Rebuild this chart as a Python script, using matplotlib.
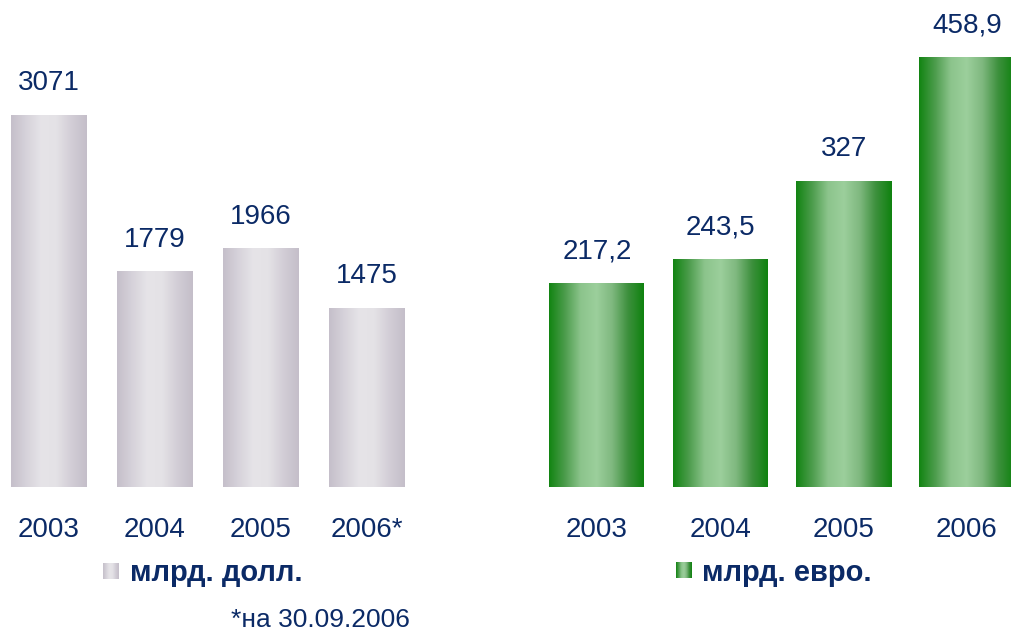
import numpy as np
import matplotlib.pyplot as plt
from matplotlib.colors import LinearSegmentedColormap

plt.rcParams['font.family'] = ['Liberation Sans', 'DejaVu Sans']

# данные
years_usd = ['2003', '2004', '2005', '2006*']
values_usd = [3071, 1779, 1966, 1475]
labels_usd = ['3071', '1779', '1966', '1475']

years_eur = ['2003', '2004', '2005', '2006']
values_eur = [217.2, 243.5, 327, 458.9]
labels_eur = ['217,2', '243,5', '327', '458,9']

TEXT_COLOR = '#0b2a66'
W, H = 1012, 631

grey_cmap = LinearSegmentedColormap.from_list(
    'grey', ['#c5bfca', '#d6d2da', '#e6e4e8', '#e4e2e6', '#d2cdd6', '#c4bec9'])
green_cmap = LinearSegmentedColormap.from_list(
    'green', ['#128412', '#4c9c4c', '#8cc48c', '#9ccf9c', '#7fb87f', '#3d903d', '#0f820f'])


def gradient_bars(ax, xs, values, width, cmap):
    grad = np.linspace(0, 1, 256).reshape(1, -1)
    for x, v in zip(xs, values):
        ax.imshow(grad, cmap=cmap, aspect='auto', interpolation='bicubic',
                  extent=(x - width / 2, x + width / 2, 0, v), zorder=2)


def make_panel(px_left, px_right, center0, step, bar_px, px_per_unit,
               cats, values, labels, cmap):
    base = 487
    ax = fig.add_axes([px_left / W, (H - base) / H, (px_right - px_left) / W, base / H])
    xs = np.arange(len(cats))
    gradient_bars(ax, xs, values, bar_px / step, cmap)
    ax.set_xlim((px_left - center0) / step, (px_right - center0) / step)
    ax.set_ylim(0, base / px_per_unit)
    for x, v, lab in zip(xs, values, labels):
        ax.annotate(lab, (x, v), xytext=(0, 23), textcoords='offset points',
                    ha='center', va='center', fontsize=20, color=TEXT_COLOR)
    for x, c in zip(xs, cats):
        ax.annotate(c, (x, 0), xytext=(0, -31), textcoords='offset points',
                    ha='center', va='center', fontsize=20, color=TEXT_COLOR,
                    annotation_clip=False)
    ax.axis('off')
    return ax


def legend_marker(x0, x1, y0, y1, cmap):
    lax = fig.add_axes([x0 / W, (H - y1) / H, (x1 - x0) / W, (y1 - y0) / H])
    grad = np.linspace(0, 1, 64).reshape(1, -1)
    lax.imshow(grad, cmap=cmap, aspect='auto', interpolation='bicubic')
    lax.axis('off')


fig = plt.figure(figsize=(W / 100, H / 100), dpi=100)

make_panel(0, 424, 49, 106, 76, 0.1211, years_usd, values_usd, labels_usd, grey_cmap)
make_panel(500, 1012, 597, 123.3, 95, 0.935, years_eur, values_eur, labels_eur, green_cmap)

legend_marker(103, 119, 563, 579, grey_cmap)
fig.text(130 / W, 1 - 573 / H, 'млрд. долл.', fontsize=21, fontweight='bold',
         color=TEXT_COLOR, va='center', ha='left')
legend_marker(676, 692, 562, 578, green_cmap)
fig.text(702 / W, 1 - 573 / H, 'млрд. евро.', fontsize=21, fontweight='bold',
         color=TEXT_COLOR, va='center', ha='left')
fig.text(410 / W, 1 - 627 / H, '*на 30.09.2006', fontsize=19,
         color=TEXT_COLOR, va='baseline', ha='right')

fig.savefig('out.png', dpi=100)
